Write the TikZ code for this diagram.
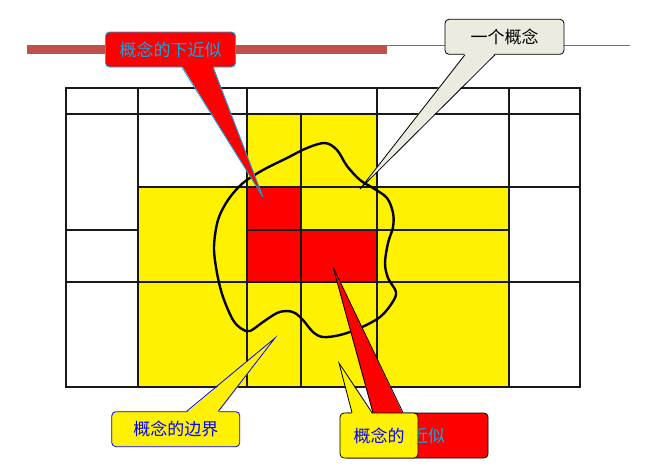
\documentclass[tikz,border=0pt]{standalone}
\usepackage{fontspec}
\newfontfamily\cjk{Noto Sans CJK SC}
\usepackage{tikz}
\usetikzlibrary{calc}
\definecolor{barred}{HTML}{C0504D}
\definecolor{notegray}{HTML}{EBEBE0}
\tikzset{
  %% grid of elementary sets
  gridline/.style={line width=1.3pt, black!90},
  %% the concept itself
  conceptline/.style={line width=2.4pt, black},
  %% callout boxes
  notebox/.style={
    rectangle, rounded corners=4pt, line width=0.8pt,
    inner sep=0pt, minimum height=35pt,
    font=\cjk\fontsize{17}{20}\selectfont},
  redbox/.style={notebox, fill=red, draw=cyan, text=cyan},
  graybox/.style={notebox, fill=notegray, draw=black, text=black},
  yellowbox/.style={notebox, fill=yellow, draw=blue, text=blue},
  %% callout pointers
  tail/.style={line width=0.8pt},
}

\begin{document}
\begin{tikzpicture}[x=1pt, y=-1pt]
  \useasboundingbox (0,0) rectangle (655,469);

  %% title bar
  \fill[barred] (27,44.5) rectangle (387,53.5);
  \draw[barred, line width=0.8pt] (387,45) -- (630,45);

  %% boundary region and lower approximation
  \fill[yellow] (138,187) rectangle (509,387);
  \fill[yellow] (247,114) rectangle (377,187);
  \fill[red] (247,187) rectangle (301,230);
  \fill[red] (247,230) rectangle (377,282);

  %% grid
  \draw[gridline] (66,88) rectangle (580,387);
  \draw[gridline] (66,114) -- (580,114);
  \draw[gridline] (138,187) -- (580,187);
  \draw[gridline] (66,230) -- (138,230) (247,230) -- (509,230);
  \draw[gridline] (66,282) -- (580,282);
  \foreach \x in {138,247,377,509}
    \draw[gridline] (\x,88) -- (\x,387);
  \draw[gridline] (301,114) -- (301,387);

  %% the concept
  \draw[conceptline] plot[smooth cycle, tension=0.55] coordinates {
    (325,143) (337,150) (347,166) (360,180) (373,188) (387,198)
    (393,213) (393,227) (388,243) (385,263) (388,278) (396,292)
    (392,303) (380,317) (360,328) (340,335) (323,337) (313,332)
    (303,320) (295,313) (287,311) (277,313) (263,322) (250,331)
    (242,329) (233,320) (223,297) (217,273) (214,247) (218,220)
    (228,200) (243,183) (263,170) (287,158) (307,148)};

  %% callouts
  \coordinate (lowtip) at (263,197);
  \coordinate (concepttip) at (360,189);
  \coordinate (boundtip) at (275,338);
  \coordinate (uppertip) at (333,267);
  \coordinate (parttip) at (339,363);

  \node[redbox, minimum width=130pt] (lowerapp) at (170.5,49.5) {概念的下近似};
  \fill[red] ($(lowerapp.south)+(11.5,-1.5)$) -- (lowtip)
    -- ($(lowerapp.south)+(42.5,-1.5)$) -- cycle;
  \draw[tail, cyan] ($(lowerapp.south)+(11.5,0)$) -- (lowtip)
    -- ($(lowerapp.south)+(42.5,0)$);

  \node[graybox, minimum width=119pt] (concept) at (504.5,36.8) {一个概念};
  \fill[notegray] ($(concept.south)+(-39.5,-1.5)$) -- (concepttip)
    -- ($(concept.south)+(-9.5,-1.5)$) -- cycle;
  \draw[tail, black] ($(concept.south)+(-39.5,0)$) -- (concepttip)
    -- ($(concept.south)+(-9.5,0)$);

  \node[yellowbox, minimum width=128pt] (boundary) at (175.8,429.2) {概念的边界};
  \fill[yellow] ($(boundary.north)+(10.9,1.5)$) -- (boundtip)
    -- ($(boundary.north)+(42.5,1.5)$) -- cycle;
  \draw[tail, blue] ($(boundary.north)+(10.9,0)$) -- (boundtip)
    -- ($(boundary.north)+(42.5,0)$);

  \node[redbox, draw=black, minimum width=145pt, minimum height=45pt,
        text width=145pt, align=left] (upperapp) at (415.5,435.5) {概念的上近似};
  \fill[red] ($(upperapp.north)+(-42.5,1.5)$) -- (uppertip)
    -- ($(upperapp.north)+(-12.5,1.5)$) -- cycle;
  \draw[tail, black] ($(upperapp.north)+(-42.5,0)$) -- (uppertip)
    -- ($(upperapp.north)+(-12.5,0)$);

  \node[yellowbox, draw=black, minimum width=78pt, minimum height=45pt]
        (upperpart) at (379,435.5) {概念的};
  \fill[yellow] ($(upperpart.north)+(-27,1.5)$) -- (parttip)
    -- ($(upperpart.north)+(-7,1.5)$) -- cycle;
  \draw[tail, black] ($(upperpart.north)+(-27,0)$) -- (parttip)
    -- ($(upperpart.north)+(-7,0)$);
\end{tikzpicture}
\end{document}
